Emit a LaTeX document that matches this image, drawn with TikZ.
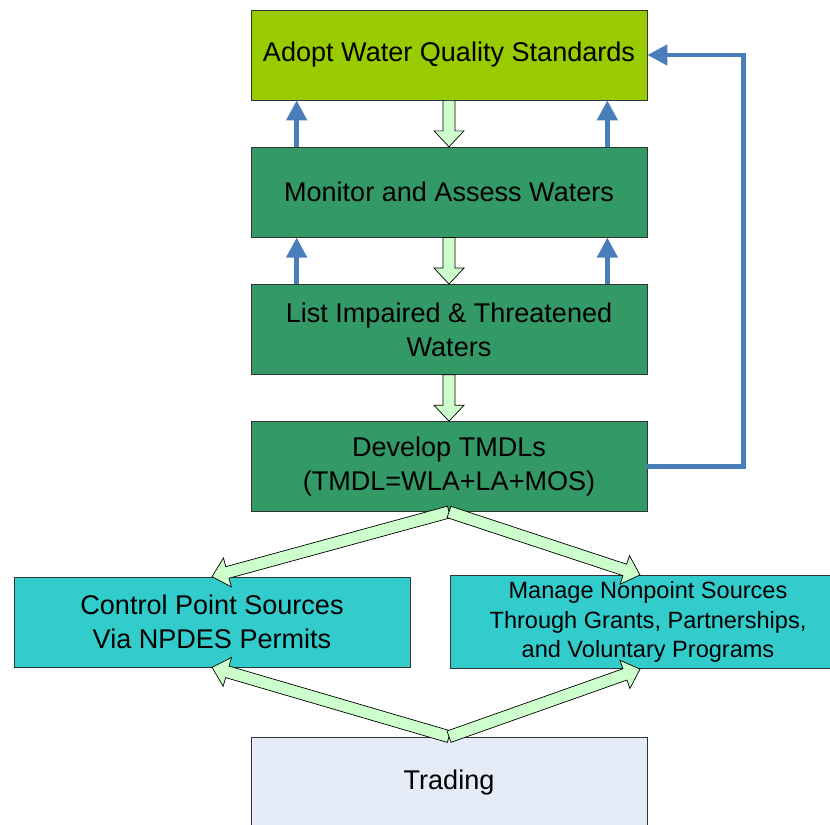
\documentclass[tikz,border=0pt]{standalone}
\usepackage{fontspec}
\setmainfont{Liberation Sans}
\usetikzlibrary{positioning,calc,arrows.meta}
\definecolor{wqsgreen}{HTML}{99CC00}
\definecolor{stepgreen}{HTML}{339966}
\definecolor{srccyan}{HTML}{33CCCC}
\definecolor{tradeblue}{HTML}{E6ECF7}
\definecolor{flowgreen}{HTML}{CCFFCC}
\definecolor{loopblue}{HTML}{4A7EBB}

\newcommand{\flowarrow}[2]{%
  \coordinate (fa) at ($(#2)!0.32cm!(#1)$);
  \filldraw[flow] ($(#1)!0.12cm!90:(#2)$) -- ($(fa)!0.12cm!90:(#2)$)
    -- ($(fa)!0.3cm!90:(#2)$) -- (#2) -- ($(fa)!0.3cm!-90:(#2)$)
    -- ($(fa)!0.12cm!-90:(#2)$) -- ($(#1)!0.12cm!-90:(#2)$) -- cycle;}

\begin{document}
\begin{tikzpicture}[%
        node distance=0.93cm,
        stage/.style={%
          rectangle,
          draw=black!80,
          thin,
          minimum width=7.92cm,
          minimum height=1.8cm,
          align=center,
          font=\fontsize{15.4}{19.4}\selectfont
        },
        flow/.style={fill=flowgreen,draw=black,thin,line join=miter},
        feedback/.style={draw=loopblue,line width=2.6pt,
          -{Triangle[length=0.4cm,width=0.4cm]}}
      ]
      \useasboundingbox (0,0) rectangle (16.6,-16.48);
      \node[stage,fill=wqsgreen] (adopt) at (8.98,-1.1) {Adopt Water Quality Standards};
      \node[stage,fill=stepgreen] (monitor) [below=of adopt] {Monitor and Assess Waters};
      \node[stage,fill=stepgreen] (list) [below=of monitor] {List Impaired \& Threatened\\Waters};
      \node[stage,fill=stepgreen] (tmdl) [below=of list] {Develop TMDLs\\(TMDL=WLA+LA+MOS)};
      \node[stage,fill=srccyan] (point) at (4.24,-12.44) {Control Point Sources\\Via NPDES Permits};
      \node[stage,fill=srccyan,
        font=\fontsize{13.4}{17}\selectfont] (nonpoint) at (12.96,-12.44)
        {Manage Nonpoint Sources\\Through Grants, Partnerships,\\and Voluntary Programs};
      \node[stage,fill=tradeblue] (trading) at (8.98,-15.64) {Trading};
      \coordinate (nptop) at ([xshift=-0.16cm]nonpoint.north);
      \coordinate (npbot) at ([xshift=-0.16cm]nonpoint.south);

      \flowarrow{adopt.south}{monitor.north}
      \flowarrow{monitor.south}{list.north}
      \flowarrow{list.south}{tmdl.north}
      \flowarrow{tmdl.south}{point.north}
      \flowarrow{tmdl.south}{nptop}
      \flowarrow{trading.north}{point.south}
      \flowarrow{trading.north}{npbot}

      \draw[feedback] ([xshift=0.92cm]monitor.north west) -- ([xshift=0.92cm]adopt.south west);
      \draw[feedback] ([xshift=-0.8cm]monitor.north east) -- ([xshift=-0.8cm]adopt.south east);
      \draw[feedback] ([xshift=0.92cm]list.north west) -- ([xshift=0.92cm]monitor.south west);
      \draw[feedback] ([xshift=-0.8cm]list.north east) -- ([xshift=-0.8cm]monitor.south east);
      \draw[feedback] (tmdl.east) -- ++(1.92,0) |- (adopt.east);
  \end{tikzpicture}
\end{document}
